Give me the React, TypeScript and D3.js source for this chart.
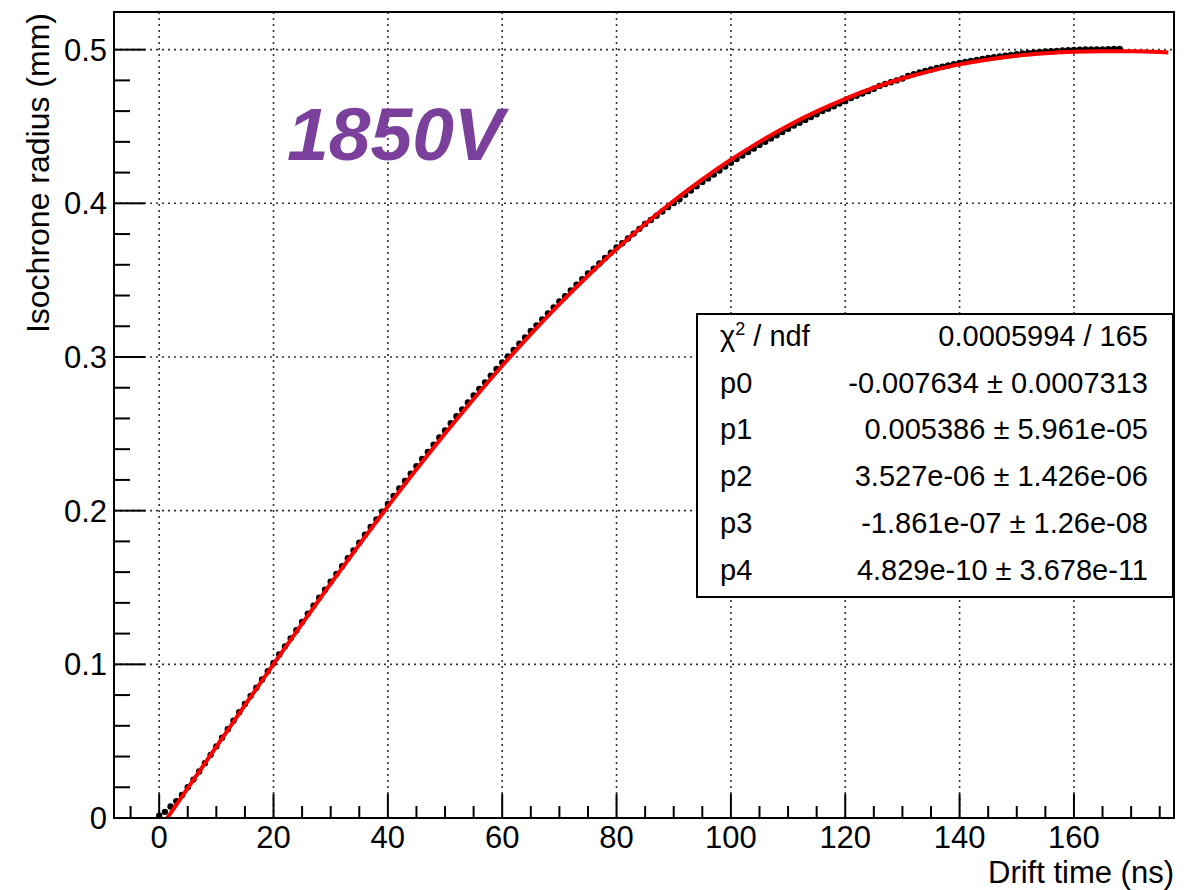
import React, { useEffect, useRef } from "react";
import * as d3 from "d3";

// measured isochrone radius (mm), one point per ns starting at 0 ns
const radius = [
  0.0015, 0.004, 0.0075, 0.011, 0.015, 0.02, 0.025, 0.0303, 0.0357, 0.0411, 0.0466,
  0.0522, 0.0578, 0.0633, 0.0688, 0.0742,
  0.0795, 0.0848, 0.0902, 0.0955, 0.1009,
  0.1064, 0.1117, 0.1169, 0.1222, 0.1275,
  0.1329, 0.1381, 0.1433, 0.1485, 0.1537,
  0.1588, 0.1639, 0.169, 0.1741, 0.1791,
  0.1844, 0.1894, 0.1943, 0.1993, 0.2043,
  0.2096, 0.2144, 0.2193, 0.2241, 0.2289,
  0.2336, 0.2382, 0.2429, 0.2476, 0.2522,
  0.2569, 0.2614, 0.2659, 0.2704, 0.2749,
  0.2792, 0.2835, 0.2879, 0.2922, 0.2965,
  0.3004, 0.3045, 0.3086, 0.3127, 0.3169,
  0.3206, 0.3245, 0.3284, 0.3323, 0.3362,
  0.3396, 0.3433, 0.347, 0.3507, 0.3544,
  0.3574, 0.3609, 0.3644, 0.3678, 0.3713,
  0.374, 0.3771, 0.3803, 0.3834, 0.3866,
  0.3891, 0.3919, 0.3947, 0.3975, 0.4002,
  0.4027, 0.4055, 0.4083, 0.4111, 0.4138,
  0.4162, 0.4187, 0.4213, 0.4239, 0.4264,
  0.4288, 0.4311, 0.4334, 0.4357, 0.438,
  0.4401, 0.4422, 0.4443, 0.4464, 0.4485,
  0.4506, 0.4524, 0.4543, 0.4562, 0.458,
  0.46, 0.4616, 0.4632, 0.4649, 0.4665,
  0.4685, 0.47, 0.4715, 0.473, 0.4746,
  0.4764, 0.4776, 0.4788, 0.48, 0.4812,
  0.4829, 0.484, 0.4851, 0.4861, 0.4871,
  0.4881, 0.4889, 0.4897, 0.4906, 0.4914,
  0.492, 0.4927, 0.4933, 0.494, 0.4946,
  0.4951, 0.4955, 0.496, 0.4965, 0.497,
  0.4975, 0.4979, 0.4982, 0.4985, 0.4988,
  0.499, 0.4992, 0.4994, 0.4996, 0.4998,
  0.5, 0.5001, 0.5001, 0.5002, 0.5002,
  0.5003, 0.5004, 0.5004,
];

// fitted polynomial, read at these drift times
const fitTime = [
  0, 1, 2, 3, 5, 10, 15, 20, 25, 30, 35, 40, 45, 50, 55, 60, 65, 70, 75, 80, 85,
  90, 95, 100, 105, 110, 115, 120, 125, 130, 135, 140, 145, 150, 155, 160, 165,
  170, 175, 176.5,
];
const fitRadius = [
  -0.0076, -0.0022, 0.0032, 0.0086, 0.0194, 0.0464, 0.0734, 0.1001, 0.1265,
  0.1525, 0.1779, 0.2028, 0.2269, 0.2502, 0.2727, 0.2943, 0.3149, 0.3344,
  0.3529, 0.3703, 0.3866, 0.4017, 0.4156, 0.4284, 0.44, 0.4505, 0.4598, 0.468,
  0.4752, 0.4812, 0.4862, 0.4904, 0.4936, 0.496, 0.4976, 0.4986, 0.4989,
  0.4989, 0.4985, 0.4982,
];

const xTicks = [0, 20, 40, 60, 80, 100, 120, 140, 160];
const yTicks = [0, 0.1, 0.2, 0.3, 0.4, 0.5];

const statNames = ["p0", "p1", "p2", "p3", "p4"];
const statValues = [
  "-0.007634 ± 0.0007313",
  "0.005386 ± 5.961e-05",
  "3.527e-06 ± 1.426e-06",
  "-1.861e-07 ± 1.26e-08",
  "4.829e-10 ± 3.678e-11",
];
const chi2Value = "0.0005994 / 165";

const FONT = "'Liberation Sans', Arial, Helvetica, sans-serif";

const App = () => {
  const ref = useRef<SVGSVGElement>(null);

  useEffect(() => {
    const W = 1198, H = 890;
    const left = 114, right = 1174, top = 12, bottom = 818;
    const svg = d3.select(ref.current);
    svg.selectAll("*").remove();

    const x = d3.scaleLinear().domain([-7.9, 177.5]).range([left, right]);
    const y = d3.scaleLinear().domain([0, 0.5245]).range([bottom, top]);

    svg.append("rect").attr("width", W).attr("height", H).attr("fill", "white");

    svg.append("clipPath").attr("id", "frameClip")
      .append("rect")
      .attr("x", left).attr("y", top)
      .attr("width", right - left).attr("height", bottom - top);

    // grid
    const grid = svg.append("g")
      .attr("stroke", "#333")
      .attr("stroke-width", 1.6)
      .attr("stroke-dasharray", "2,4");
    xTicks.forEach(t => {
      grid.append("line")
        .attr("x1", x(t)).attr("x2", x(t))
        .attr("y1", bottom).attr("y2", top);
    });
    yTicks.filter(t => t > 0).forEach(t => {
      grid.append("line")
        .attr("x1", left).attr("x2", right)
        .attr("y1", y(t)).attr("y2", y(t));
    });

    // ticks
    const tickG = svg.append("g").attr("stroke", "black").attr("stroke-width", 2);
    d3.range(-5, 177, 5).forEach(t => {
      const major = t % 20 === 0;
      tickG.append("line")
        .attr("x1", x(t)).attr("x2", x(t))
        .attr("y1", bottom).attr("y2", bottom - (major ? 24 : 12));
    });
    d3.range(0, 26).map(i => i * 0.02).forEach((t, i) => {
      const major = i % 5 === 0;
      tickG.append("line")
        .attr("x1", left).attr("x2", left + (major ? 31 : 16))
        .attr("y1", y(t)).attr("y2", y(t));
    });

    // tick labels
    svg.append("g")
      .selectAll("text")
      .data(xTicks)
      .join("text")
      .attr("x", d => x(d))
      .attr("y", 848)
      .attr("text-anchor", "middle")
      .attr("font-family", FONT)
      .attr("font-size", 31)
      .text(d => d3.format("d")(d));

    svg.append("g")
      .selectAll("text")
      .data(yTicks)
      .join("text")
      .attr("x", 107)
      .attr("y", d => y(d) + 11)
      .attr("text-anchor", "end")
      .attr("font-family", FONT)
      .attr("font-size", 31)
      .text(d => (d === 0 ? "0" : d3.format(".1f")(d)));

    // axis titles
    svg.append("text")
      .attr("x", right)
      .attr("y", 883)
      .attr("text-anchor", "end")
      .attr("font-family", FONT)
      .attr("font-size", 31)
      .text("Drift time (ns)");

    svg.append("text")
      .attr("transform", `translate(49, ${top + 1}) rotate(-90)`)
      .attr("text-anchor", "end")
      .attr("font-family", FONT)
      .attr("font-size", 32)
      .text("Isochrone radius (mm)");

    // data points + fit curve
    const plot = svg.append("g").attr("clip-path", "url(#frameClip)");
    plot.append("g")
      .selectAll("circle")
      .data(radius)
      .join("circle")
      .attr("cx", (_, i) => x(i))
      .attr("cy", d => y(d))
      .attr("r", 3.2)
      .attr("fill", "black");

    const line = d3.line<number>()
      .x((_, i) => x(fitTime[i]))
      .y(d => y(d))
      .curve(d3.curveMonotoneX);
    plot.append("path")
      .attr("d", line(fitRadius))
      .attr("fill", "none")
      .attr("stroke", "#ff0000")
      .attr("stroke-width", 4);

    // frame
    svg.append("rect")
      .attr("x", left).attr("y", top)
      .attr("width", right - left).attr("height", bottom - top)
      .attr("fill", "none")
      .attr("stroke", "black")
      .attr("stroke-width", 2);

    // label
    svg.append("text")
      .attr("x", 287)
      .attr("y", 160)
      .attr("font-family", FONT)
      .attr("font-weight", "bold")
      .attr("font-style", "italic")
      .attr("font-size", 75)
      .attr("fill", "#7b3f9c")
      .text("1850V");

    // stats box
    const bx = 697, by = 314, bw = 1173 - 697, bh = 597 - 314;
    const stats = svg.append("g");
    stats.append("rect")
      .attr("x", bx).attr("y", by).attr("width", bw).attr("height", bh)
      .attr("fill", "white").attr("stroke", "black").attr("stroke-width", 2);

    const rowY = (i: number) => 346 + i * 46.7;
    const chi = stats.append("text")
      .attr("x", 720).attr("y", rowY(0))
      .attr("font-family", FONT).attr("font-size", 29);
    chi.append("tspan").text("χ");
    chi.append("tspan").attr("font-size", 18).attr("dy", -11).text("2");
    chi.append("tspan").attr("dy", 11).text(" / ndf");
    stats.append("text")
      .attr("x", 1148).attr("y", rowY(0))
      .attr("text-anchor", "end")
      .attr("font-family", FONT).attr("font-size", 29)
      .text(chi2Value);

    statNames.forEach((name, i) => {
      stats.append("text")
        .attr("x", 720).attr("y", rowY(i + 1))
        .attr("font-family", FONT).attr("font-size", 29)
        .text(name);
      stats.append("text")
        .attr("x", 1148).attr("y", rowY(i + 1))
        .attr("text-anchor", "end")
        .attr("font-family", FONT).attr("font-size", 29)
        .text(statValues[i]);
    });

    return () => {
      d3.select(ref.current).selectAll("*").remove();
    };
  }, []);

  return (
    <div>
      <style>{`body{margin:0}`}</style>
      <svg ref={ref} width={1198} height={890} style={{ display: "block" }}></svg>
    </div>
  );
};

export default App;
